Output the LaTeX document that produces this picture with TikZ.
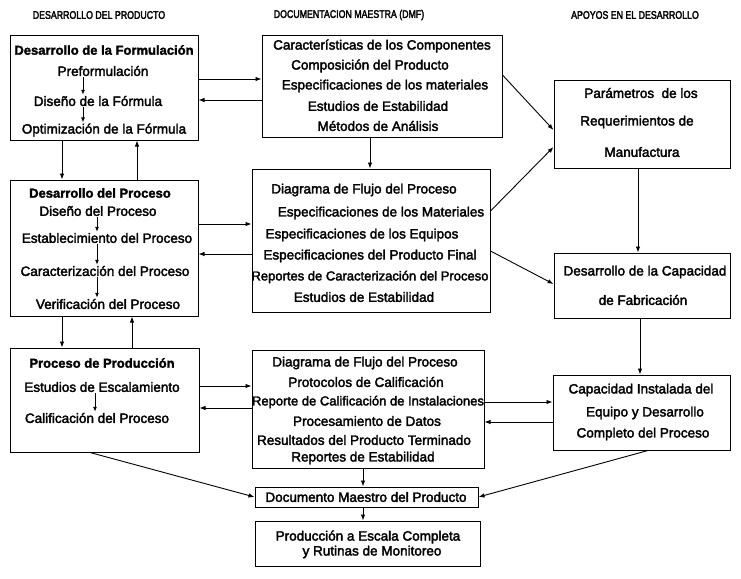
\documentclass[tikz,border=0pt]{standalone}
\usepackage{fontspec}
\usepackage{graphicx}
\setmainfont{Liberation Sans}
\newfontfamily\bodyfont{Liberation Sans}[FakeBold=2.5]
\newfontfamily\titlefont{Liberation Sans Bold}[FakeBold=2]
\newfontfamily\headfont{Liberation Sans}[FakeBold=3]
\usetikzlibrary{arrows.meta,fit}

\tikzset{
  boxframe/.style={draw, line width=1pt, inner sep=0pt},
  rowtext/.style={font=\bodyfont\fontsize{13.5}{15}\selectfont, inner sep=0pt},
  widerow/.style={font=\bodyfont\fontsize{13}{15}\selectfont, inner sep=0pt},
  boxtitle/.style={font=\titlefont\fontsize{13}{15}\selectfont, inner sep=0pt},
  colhead/.style={font=\headfont\fontsize{11}{12}\selectfont, inner sep=0pt},
  link/.style={line width=0.9pt, -{Latex[length=6pt,width=4.5pt]}},
  innerarrow/.style={line width=0.9pt, -{Latex[length=5pt,width=4pt]}, shorten <=1pt, shorten >=1pt}
}

\begin{document}
\begin{tikzpicture}[x=1pt,y=-1pt]
\useasboundingbox (0,0) rectangle (741,578);

% column headings
\node[colhead] (h1) at (99,15)  {\scalebox{0.8}[1]{DESARROLLO DEL PRODUCTO}};
\node[colhead] (h2) at (349,15) {\scalebox{0.8}[1]{DOCUMENTACION MAESTRA (DMF)}};
\node[colhead] (h3) at (635,15) {\scalebox{0.8}[1]{APOYOS EN EL DESARROLLO}};

% ---- left column: product development
\node[boxframe, fit={(10,36) (198,140)}] (A) {};
\node[boxtitle] (a0) at (104,50)  {Desarrollo de la Formulación};
\node[rowtext]  (a1) at (103,71)  {Preformulación};
\node[rowtext]  (a2) at (98,101)  {Diseño de la Fórmula};
\node[rowtext]  (a3) at (104,130) {Optimización de la Fórmula};
\draw[innerarrow] (a1.south -| 83,0) -- (a2.north -| 83,0);
\draw[innerarrow] (a2.south -| 83,0) -- (a3.north -| 83,0);

\node[boxframe, fit={(10,180) (198,316)}] (B) {};
\node[boxtitle] (b0) at (100,193) {Desarrollo del Proceso};
\node[rowtext]  (b1) at (98,211)  {Diseño del Proceso};
\node[rowtext]  (b2) at (107,238) {Establecimiento del Proceso};
\node[rowtext]  (b3) at (105,271) {Caracterización del Proceso};
\node[rowtext]  (b4) at (108,304) {Verificación del Proceso};
\draw[innerarrow] (b1.south -| 97,0) -- (b2.north -| 97,0);
\draw[innerarrow] (b2.south -| 97,0) -- (b3.north -| 97,0);
\draw[innerarrow] (b3.south -| 97,0) -- (b4.north -| 97,0);

\node[boxframe, fit={(10,348) (199,452)}] (C) {};
\node[boxtitle] (c0) at (102,363) {Proceso de Producción};
\node[rowtext]  (c1) at (102,387) {Estudios de Escalamiento};
\node[rowtext]  (c2) at (97,418)  {Calificación del Proceso};
\draw[innerarrow] (c1.south -| 95,0) -- (c2.north -| 95,0);

% ---- middle column: master documentation
\node[boxframe, fit={(262,36) (502,137)}] (D) {};
\node[rowtext] (d0) at (382,46)  {Características de los Componentes};
\node[rowtext] (d1) at (370,66)  {Composición del Producto};
\node[rowtext] (d2) at (385,86)  {Especificaciones de los materiales};
\node[rowtext] (d3) at (378,106) {Estudios de Estabilidad};
\node[rowtext] (d4) at (378,126) {Métodos de Análisis};

\node[boxframe, fit={(252,169) (490,312)}] (E) {};
\node[rowtext] (e0) at (364,190) {Diagrama de Flujo del Proceso};
\node[rowtext] (e1) at (381,213) {Especificaciones de los Materiales};
\node[rowtext] (e2) at (362,235) {Especificaciones de los Equipos};
\node[rowtext] (e3) at (370,256) {Especificaciones del Producto Final};
\node[widerow] (e4) at (370,277) {Reportes de Caracterización del Proceso};
\node[rowtext] (e5) at (364,297) {Estudios de Estabilidad};

\node[boxframe, fit={(252,350) (484,468)}] (F) {};
\node[rowtext] (f0) at (365,363) {Diagrama de Flujo del Proceso};
\node[rowtext] (f1) at (366,382) {Protocolos de Calificación};
\node[widerow] (f2) at (368,402) {Reporte de Calificación de Instalaciones};
\node[rowtext] (f3) at (367,421) {Procesamiento de Datos};
\node[rowtext] (f4) at (364,440) {Resultados del Producto Terminado};
\node[rowtext] (f5) at (363,458) {Reportes de Estabilidad};

\node[boxframe, fit={(255,487) (478,507)}] (G) {};
\node[rowtext] (g0) at (366,497) {Documento Maestro del Producto};

\node[boxframe, fit={(255,521) (480,566)}] (H) {};
\node[rowtext] (p1) at (368,537) {Producción a Escala Completa};
\node[rowtext] (p2) at (372,552) {y Rutinas de Monitoreo};

% ---- right column: development support
\node[boxframe, fit={(554,80) (730,168)}] (I) {};
\node[rowtext] (i0) at (641,93)  {Parámetros~ de los};
\node[rowtext] (i1) at (637,122) {Requerimientos de};
\node[rowtext] (i2) at (642,152) {Manufactura};

\node[boxframe, fit={(554,253) (730,318)}] (J) {};
\node[rowtext] (j0) at (645,272) {Desarrollo de la Capacidad};
\node[rowtext] (j1) at (643,300) {de Fabricación};

\node[boxframe, fit={(553,375) (730,450)}] (K) {};
\node[rowtext] (k0) at (641,390) {Capacidad Instalada del};
\node[rowtext] (k1) at (645,413) {Equipo y Desarrollo};
\node[rowtext] (k2) at (643,434) {Completo del Proceso};

% ---- connectors
\draw[link] (A.east |- 0,79)  -- (D.west |- 0,79);
\draw[link] (D.west |- 0,100) -- (A.east |- 0,100);
\draw[link] (A.south -| 62,0) -- (B.north -| 62,0);
\draw[link] (B.north -| 137,0) -- (A.south -| 137,0);
\draw[link] (D.south -| 370,0) -- (E.north -| 370,0);

\draw[link] (B.east |- 0,224) -- (E.west |- 0,224);
\draw[link] (E.west |- 0,254) -- (B.east |- 0,254);
\draw[link] (B.south -| 62,0) -- (C.north -| 62,0);
\draw[link] (C.north -| 132,0) -- (B.south -| 132,0);

\draw[link] (C.east |- 0,386) -- (F.west |- 0,386);
\draw[link] (F.west |- 0,408) -- (C.east |- 0,408);

\draw[link] (D.east |- 0,75)  -- (I.west |- 0,130);
\draw[link] (E.east |- 0,211) -- (I.west |- 0,147);
\draw[link] (E.east |- 0,251) -- (J.west |- 0,284);
\draw[link] (I.south -| 638,0) -- (J.north -| 638,0);
\draw[link] (J.south -| 640,0) -- (K.north -| 640,0);

\draw[link] (F.east |- 0,402) -- (K.west |- 0,402);
\draw[link] (K.west |- 0,422) -- (F.east |- 0,422);

\draw[link] (F.south -| 363,0) -- (G.north -| 363,0);
\draw[link] (G.south -| 363,0) -- (H.north -| 363,0);
\draw[link] (C.south -| 90,0) -- (G.west);
\draw[link] (K.south -| 648,0) -- (G.east);
\end{tikzpicture}
\end{document}
